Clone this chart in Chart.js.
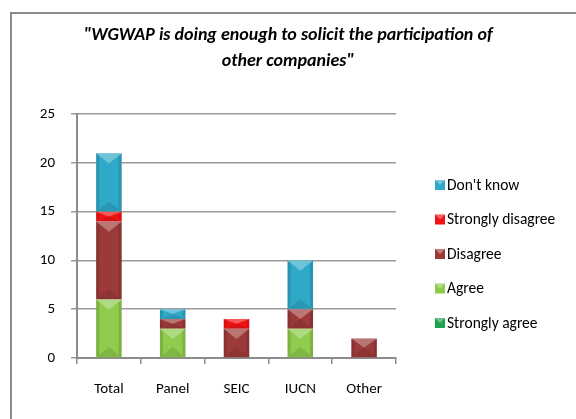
<!DOCTYPE html>
<html>
<head>
<meta charset="utf-8">
<script src="https://cdn.jsdelivr.net/npm/chart.js@4/dist/chart.umd.min.js"></script>
<style>
  html, body { margin: 0; padding: 0; background: #fff; overflow: hidden; }
  #wrap { position: relative; width: 576px; height: 419px; }
  #frame { position: absolute; left: 10px; top: 12px; width: 600px; height: 500px;
           border: 2px solid #8c8c8c; box-sizing: border-box; }
  canvas { position: absolute; left: 0; top: 0; }
</style>
</head>
<body>
<div id="wrap">
  <div id="frame"></div>
  <canvas id="chart" width="576" height="419"></canvas>
</div>
<script>
(function () {
    "use strict";

    const categories = ["Total", "Panel", "SEIC", "IUCN", "Other"];
    const stronglyAgree = [0, 0, 0, 0, 0];
    const agree = [6, 3, 0, 3, 0];
    const disagree = [8, 1, 3, 2, 2];
    const stronglyDisagree = [1, 0, 1, 0, 0];
    const dontKnow = [6, 1, 0, 5, 0];
    const yMax = 25;
    const yStep = 5;

    const fontFamily = "Carlito, 'Liberation Sans', Arial, sans-serif";

    // Excel-like bevel on each bar segment
    const bevel = {
        id: "bevel",
        afterDatasetDraw(chart, args) {
            const ctx = chart.ctx;
            args.meta.data.forEach((bar) => {
                const p = bar.getProps(["x", "y", "base", "width"], true);
                const l = p.x - p.width / 2, r = p.x + p.width / 2;
                const t = Math.min(p.y, p.base), b = Math.max(p.y, p.base);
                const h = b - t;
                if (h < 1) return;
                const d = Math.min(p.width * 0.4, h / 2);
                ctx.save();
                ctx.fillStyle = "rgba(255,255,255,0.3)";
                ctx.beginPath();
                ctx.moveTo(l, t); ctx.lineTo(r, t); ctx.lineTo(p.x, t + d); ctx.closePath();
                ctx.fill();
                ctx.fillStyle = "rgba(0,0,0,0.12)";
                ctx.beginPath();
                ctx.moveTo(l, t); ctx.lineTo(l + 3, t + 3); ctx.lineTo(l + 3, b - 3); ctx.lineTo(l, b); ctx.closePath();
                ctx.fill();
                ctx.beginPath();
                ctx.moveTo(r, t); ctx.lineTo(r - 3, t + 3); ctx.lineTo(r - 3, b - 3); ctx.lineTo(r, b); ctx.closePath();
                ctx.fill();
                ctx.fillStyle = "rgba(0,0,0,0.1)";
                ctx.beginPath();
                ctx.moveTo(l, b); ctx.lineTo(r, b); ctx.lineTo(p.x, b - d); ctx.closePath();
                ctx.fill();
                ctx.restore();
            });
        },
    };

    // Legend on the right as its own layout box, top item = last dataset
    const sideLegend = {
        id: "sideLegend",
        beforeInit(chart) {
            Chart.layouts.addBox(chart, {
                position: "right",
                weight: 0,
                fullSize: false,
                options: {},
                left: 0, top: 0, right: 0, bottom: 0, width: 0, height: 0,
                isHorizontal() { return false; },
                update(maxWidth, maxHeight) { this.width = 180; this.height = maxHeight; },
                draw() {},
            });
        },
        afterDraw(chart) {
            const ctx = chart.ctx;
            const sets = chart.data.datasets.slice().reverse();
            ctx.save();
            ctx.font = "15.5px " + fontFamily;
            ctx.textBaseline = "middle";
            sets.forEach((ds, i) => {
                const y = 185 + i * 34.5;
                ctx.fillStyle = ds.backgroundColor;
                ctx.fillRect(435, y - 5, 10, 10);
                ctx.fillStyle = "rgba(255,255,255,0.35)";
                ctx.beginPath();
                ctx.moveTo(435, y - 5); ctx.lineTo(445, y - 5); ctx.lineTo(440, y); ctx.closePath();
                ctx.fill();
                ctx.fillStyle = "#000";
                ctx.fillText(ds.label, 447, y + 1);
            });
            ctx.restore();
        },
    };

    const ctx = document.getElementById("chart").getContext("2d");
    new Chart(ctx, {
        type: "bar",
        data: {
            labels: categories,
            datasets: [
                { label: "Strongly agree", data: stronglyAgree, backgroundColor: "#1aa24c" },
                { label: "Agree", data: agree, backgroundColor: "#8fcb4c" },
                { label: "Disagree", data: disagree, backgroundColor: "#9c3a3a" },
                { label: "Strongly disagree", data: stronglyDisagree, backgroundColor: "#f01414" },
                { label: "Don't know", data: dontKnow, backgroundColor: "#2fa9c8" },
            ],
        },
        options: {
            responsive: false,
            animation: false,
            layout: { padding: { left: 0, right: 0, top: 0, bottom: 5 } },
            datasets: {
                bar: { barPercentage: 0.4, categoryPercentage: 1, borderWidth: 0 },
            },
            plugins: {
                legend: { display: false },
                tooltip: { enabled: false },
                title: {
                    display: true,
                    text: [
                        "\"WGWAP is doing enough to solicit the participation of",
                        "other companies\"",
                    ],
                    color: "#000",
                    font: { family: fontFamily, size: 18, weight: "bold", style: "italic", lineHeight: 1.45 },
                    padding: { top: 22, bottom: 40 },
                },
            },
            scales: {
                x: {
                    stacked: true,
                    grid: { drawOnChartArea: false, tickLength: 6, color: "#8c8c8c", lineWidth: 1.5 },
                    border: { color: "#8c8c8c", width: 2 },
                    ticks: { color: "#000", padding: 16, font: { family: fontFamily, size: 15 } },
                },
                y: {
                    stacked: true,
                    min: 0,
                    max: yMax,
                    afterFit(scale) { scale.width = 77; },
                    grid: { color: "#9a9a9a", lineWidth: 1.5, tickLength: 6 },
                    border: { color: "#8c8c8c", width: 2 },
                    ticks: { stepSize: yStep, color: "#000", padding: 16, font: { family: fontFamily, size: 15 } },
                },
            },
        },
        plugins: [bevel, sideLegend],
    });
})();
</script>
</body>
</html>
